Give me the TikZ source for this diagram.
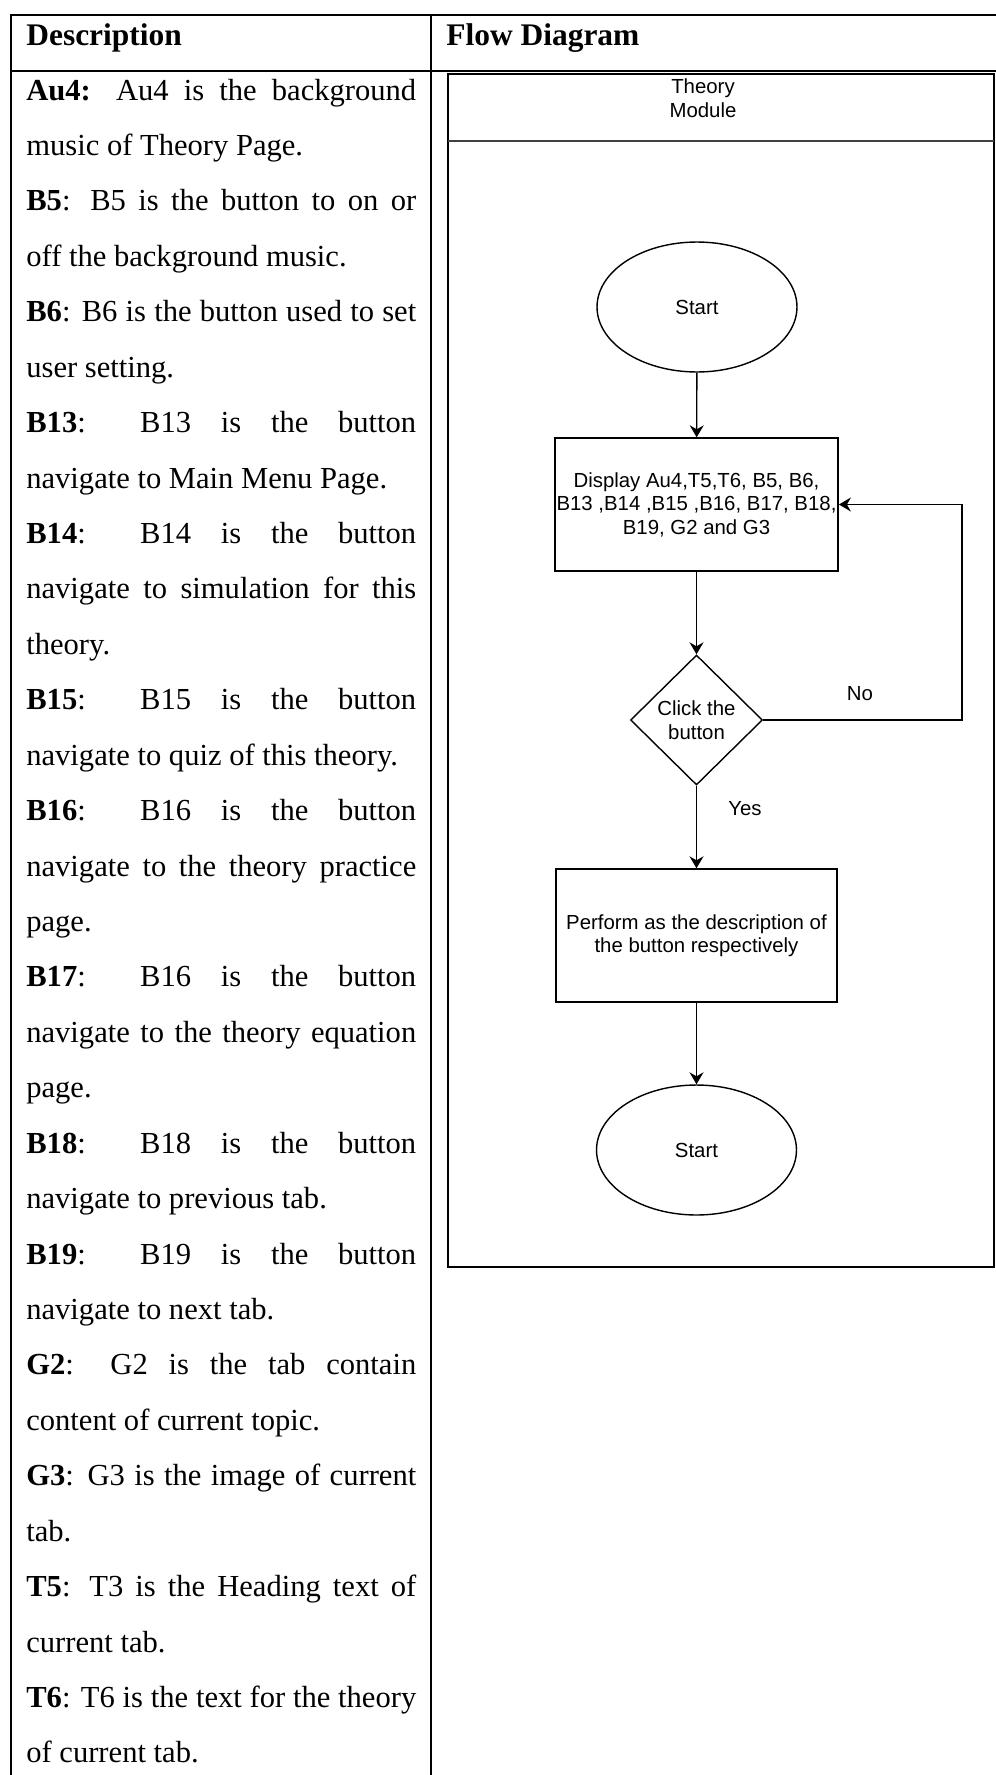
\documentclass[tikz,border=0pt]{standalone}
\usepackage{fontspec}
\setmainfont{Liberation Serif}
\setsansfont{Liberation Sans}
\usetikzlibrary{shapes.geometric,arrows.meta}

\newcommand{\fullline}[1]{\makebox[7.8cm][s]{#1}}

\tikzset{
  tableline/.style={line width=1.1pt},
  descline/.style={anchor=base west,inner sep=0pt,font=\fontsize{17.4}{20}\selectfont},
  headline/.style={descline,font=\bfseries\fontsize{17.9}{20}\selectfont},
  flowtext/.style={font=\sffamily\fontsize{11.6}{13.4}\selectfont,align=center},
  terminal/.style={flowtext,draw,ellipse,line width=0.8pt,minimum width=4cm,minimum height=2.6cm},
  process/.style={flowtext,draw,rectangle,line width=0.8pt,inner xsep=1pt,minimum width=5.62cm,minimum height=2.66cm},
  decision/.style={flowtext,draw,diamond,line width=0.8pt,minimum width=2.64cm,minimum height=2.6cm,inner sep=0pt},
  flow/.style={line width=0.8pt,-{Stealth[length=0.24cm,width=0.28cm,inset=0.08cm]}}
}

\begin{document}
\begin{tikzpicture}[x=0.02cm,y=-0.02cm]
\useasboundingbox (0,0) rectangle (996,1775);

% table
\draw[tableline] (11,1775) -- (11,15) -- (996,15);
\draw[tableline] (11,71) -- (996,71);
\draw[tableline] (431,15) -- (431,1775);

\node[headline] (deschead) at (26,45) {Description};
\node[headline] (flowhead) at (446,45) {Flow Diagram};

% left column
\foreach \txt [count=\i from 0] in {
  {\fullline{\textbf{Au4:} Au4 is the background}},
  {music of Theory Page.},
  {\fullline{\textbf{B5}: B5 is the button to on or}},
  {off the background music.},
  {\fullline{\textbf{B6}: B6 is the button used to set}},
  {user setting.},
  {\fullline{\textbf{B13}: B13 is the button}},
  {navigate to Main Menu Page.},
  {\fullline{\textbf{B14}: B14 is the button}},
  {\fullline{navigate to simulation for this}},
  {theory.},
  {\fullline{\textbf{B15}: B15 is the button}},
  {navigate to quiz of this theory.},
  {\fullline{\textbf{B16}: B16 is the button}},
  {\fullline{navigate to the theory practice}},
  {page.},
  {\fullline{\textbf{B17}: B16 is the button}},
  {\fullline{navigate to the theory equation}},
  {page.},
  {\fullline{\textbf{B18}: B18 is the button}},
  {navigate to previous tab.},
  {\fullline{\textbf{B19}: B19 is the button}},
  {navigate to next tab.},
  {\fullline{\textbf{G2}: G2 is the tab contain}},
  {content of current topic.},
  {\fullline{\textbf{G3}: G3 is the image of current}},
  {tab.},
  {\fullline{\textbf{T5}: T3 is the Heading text of}},
  {current tab.},
  {\fullline{\textbf{T6}: T6 is the text for the theory}},
  {of current tab.}
}{
  \node[descline] (line\i) at (26,{100+55.43*\i}) {\txt};
}

% flow diagram frame
\draw[line width=1.1pt] (448,74) rectangle (994,1267);
\draw[line width=1pt,black!75] (448,141) -- (994,141);
\node[flowtext] (module) at (703,98) {Theory\\Module};

% flow diagram
\node[terminal] (start) at (697,307) {Start};
\node[process] (disp) at (696.5,504.5) {Display Au4,T5,T6, B5, B6,\\B13 ,B14 ,B15 ,B16, B17, B18,\\B19, G2 and G3};
\node[decision] (click) at (696.5,720) {Click the\\button};
\node[process] (perf) at (696.5,935.5) {Perform as the description of\\the button respectively};
\node[terminal] (finish) at (696.5,1150) {Start};

\node[flowtext] (no) at (860,694) {No};
\node[flowtext] (yes) at (745,809) {Yes};
\coordinate (loop) at (962,720);

\draw[flow] (start) -- (disp);
\draw[flow] (disp) -- (click);
\draw[flow] (click) -- (perf);
\draw[flow] (perf) -- (finish);
\draw[flow] (click.east) -- (loop) |- (disp.east);

\end{tikzpicture}
\end{document}
